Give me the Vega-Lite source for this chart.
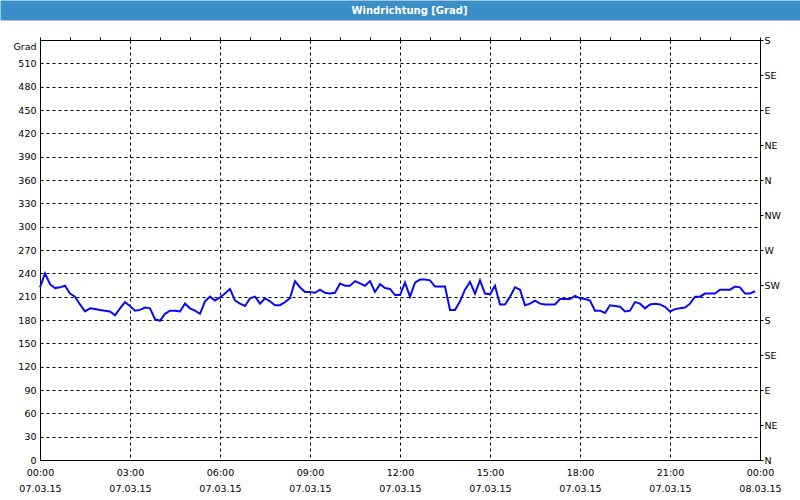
{
  "$schema": "https://vega.github.io/schema/vega-lite/v6.json",
  "autosize": {"type": "none"},
  "padding": {"left": 40, "top": 40, "right": 40, "bottom": 40},
  "background": "white",
  "width": 720,
  "height": 420,
  "view": {"stroke": "black", "strokeWidth": 1},
  "config": {
    "font": "DejaVu Sans",
    "axis": {
      "labelFont": "DejaVu Sans",
      "labelFontSize": 9.5,
      "labelColor": "black",
      "domainColor": "black",
      "tickColor": "black",
      "gridColor": "black",
      "gridDash": [3, 3],
      "gridWidth": 1,
      "titleFont": "DejaVu Sans",
      "titleColor": "black"
    }
  },
  "data": {"values": [
      {"t": "2015-03-07T00:00:00Z", "grad": 222},
      {"t": "2015-03-07T00:10:00Z", "grad": 240},
      {"t": "2015-03-07T00:20:00Z", "grad": 226},
      {"t": "2015-03-07T00:30:00Z", "grad": 221},
      {"t": "2015-03-07T00:40:00Z", "grad": 222},
      {"t": "2015-03-07T00:50:00Z", "grad": 224},
      {"t": "2015-03-07T01:00:00Z", "grad": 214},
      {"t": "2015-03-07T01:10:00Z", "grad": 210},
      {"t": "2015-03-07T01:20:00Z", "grad": 200},
      {"t": "2015-03-07T01:30:00Z", "grad": 191},
      {"t": "2015-03-07T01:40:00Z", "grad": 195},
      {"t": "2015-03-07T01:50:00Z", "grad": 194},
      {"t": "2015-03-07T02:00:00Z", "grad": 193},
      {"t": "2015-03-07T02:10:00Z", "grad": 192},
      {"t": "2015-03-07T02:20:00Z", "grad": 191},
      {"t": "2015-03-07T02:30:00Z", "grad": 186},
      {"t": "2015-03-07T02:40:00Z", "grad": 195},
      {"t": "2015-03-07T02:50:00Z", "grad": 203},
      {"t": "2015-03-07T03:00:00Z", "grad": 198},
      {"t": "2015-03-07T03:10:00Z", "grad": 192},
      {"t": "2015-03-07T03:20:00Z", "grad": 193},
      {"t": "2015-03-07T03:30:00Z", "grad": 196},
      {"t": "2015-03-07T03:40:00Z", "grad": 195},
      {"t": "2015-03-07T03:50:00Z", "grad": 181},
      {"t": "2015-03-07T04:00:00Z", "grad": 179},
      {"t": "2015-03-07T04:10:00Z", "grad": 188},
      {"t": "2015-03-07T04:20:00Z", "grad": 192},
      {"t": "2015-03-07T04:30:00Z", "grad": 192},
      {"t": "2015-03-07T04:40:00Z", "grad": 191},
      {"t": "2015-03-07T04:50:00Z", "grad": 201},
      {"t": "2015-03-07T05:00:00Z", "grad": 195},
      {"t": "2015-03-07T05:10:00Z", "grad": 192},
      {"t": "2015-03-07T05:20:00Z", "grad": 188},
      {"t": "2015-03-07T05:30:00Z", "grad": 204},
      {"t": "2015-03-07T05:40:00Z", "grad": 210},
      {"t": "2015-03-07T05:50:00Z", "grad": 205},
      {"t": "2015-03-07T06:00:00Z", "grad": 209},
      {"t": "2015-03-07T06:10:00Z", "grad": 214},
      {"t": "2015-03-07T06:20:00Z", "grad": 220},
      {"t": "2015-03-07T06:30:00Z", "grad": 205},
      {"t": "2015-03-07T06:40:00Z", "grad": 201},
      {"t": "2015-03-07T06:50:00Z", "grad": 198},
      {"t": "2015-03-07T07:00:00Z", "grad": 208},
      {"t": "2015-03-07T07:10:00Z", "grad": 210},
      {"t": "2015-03-07T07:20:00Z", "grad": 201},
      {"t": "2015-03-07T07:30:00Z", "grad": 208},
      {"t": "2015-03-07T07:40:00Z", "grad": 204},
      {"t": "2015-03-07T07:50:00Z", "grad": 199},
      {"t": "2015-03-07T08:00:00Z", "grad": 199},
      {"t": "2015-03-07T08:10:00Z", "grad": 203},
      {"t": "2015-03-07T08:20:00Z", "grad": 208},
      {"t": "2015-03-07T08:30:00Z", "grad": 230},
      {"t": "2015-03-07T08:40:00Z", "grad": 222},
      {"t": "2015-03-07T08:50:00Z", "grad": 216},
      {"t": "2015-03-07T09:00:00Z", "grad": 216},
      {"t": "2015-03-07T09:10:00Z", "grad": 215},
      {"t": "2015-03-07T09:20:00Z", "grad": 219},
      {"t": "2015-03-07T09:30:00Z", "grad": 215},
      {"t": "2015-03-07T09:40:00Z", "grad": 214},
      {"t": "2015-03-07T09:50:00Z", "grad": 215},
      {"t": "2015-03-07T10:00:00Z", "grad": 227},
      {"t": "2015-03-07T10:10:00Z", "grad": 224},
      {"t": "2015-03-07T10:20:00Z", "grad": 224},
      {"t": "2015-03-07T10:30:00Z", "grad": 230},
      {"t": "2015-03-07T10:40:00Z", "grad": 227},
      {"t": "2015-03-07T10:50:00Z", "grad": 224},
      {"t": "2015-03-07T11:00:00Z", "grad": 230},
      {"t": "2015-03-07T11:10:00Z", "grad": 216},
      {"t": "2015-03-07T11:20:00Z", "grad": 226},
      {"t": "2015-03-07T11:30:00Z", "grad": 221},
      {"t": "2015-03-07T11:40:00Z", "grad": 220},
      {"t": "2015-03-07T11:50:00Z", "grad": 212},
      {"t": "2015-03-07T12:00:00Z", "grad": 212},
      {"t": "2015-03-07T12:10:00Z", "grad": 228},
      {"t": "2015-03-07T12:20:00Z", "grad": 210},
      {"t": "2015-03-07T12:30:00Z", "grad": 228},
      {"t": "2015-03-07T12:40:00Z", "grad": 232},
      {"t": "2015-03-07T12:50:00Z", "grad": 232},
      {"t": "2015-03-07T13:00:00Z", "grad": 231},
      {"t": "2015-03-07T13:10:00Z", "grad": 223},
      {"t": "2015-03-07T13:20:00Z", "grad": 223},
      {"t": "2015-03-07T13:30:00Z", "grad": 223},
      {"t": "2015-03-07T13:40:00Z", "grad": 193},
      {"t": "2015-03-07T13:50:00Z", "grad": 193},
      {"t": "2015-03-07T14:00:00Z", "grad": 204},
      {"t": "2015-03-07T14:10:00Z", "grad": 219},
      {"t": "2015-03-07T14:20:00Z", "grad": 229},
      {"t": "2015-03-07T14:30:00Z", "grad": 214},
      {"t": "2015-03-07T14:40:00Z", "grad": 231},
      {"t": "2015-03-07T14:50:00Z", "grad": 214},
      {"t": "2015-03-07T15:00:00Z", "grad": 213},
      {"t": "2015-03-07T15:10:00Z", "grad": 224},
      {"t": "2015-03-07T15:20:00Z", "grad": 200},
      {"t": "2015-03-07T15:30:00Z", "grad": 200},
      {"t": "2015-03-07T15:40:00Z", "grad": 210},
      {"t": "2015-03-07T15:50:00Z", "grad": 222},
      {"t": "2015-03-07T16:00:00Z", "grad": 219},
      {"t": "2015-03-07T16:10:00Z", "grad": 199},
      {"t": "2015-03-07T16:20:00Z", "grad": 201},
      {"t": "2015-03-07T16:30:00Z", "grad": 205},
      {"t": "2015-03-07T16:40:00Z", "grad": 201},
      {"t": "2015-03-07T16:50:00Z", "grad": 200},
      {"t": "2015-03-07T17:00:00Z", "grad": 200},
      {"t": "2015-03-07T17:10:00Z", "grad": 200},
      {"t": "2015-03-07T17:20:00Z", "grad": 207},
      {"t": "2015-03-07T17:30:00Z", "grad": 207},
      {"t": "2015-03-07T17:40:00Z", "grad": 207},
      {"t": "2015-03-07T17:50:00Z", "grad": 211},
      {"t": "2015-03-07T18:00:00Z", "grad": 208},
      {"t": "2015-03-07T18:10:00Z", "grad": 207},
      {"t": "2015-03-07T18:20:00Z", "grad": 205},
      {"t": "2015-03-07T18:30:00Z", "grad": 192},
      {"t": "2015-03-07T18:40:00Z", "grad": 192},
      {"t": "2015-03-07T18:50:00Z", "grad": 189},
      {"t": "2015-03-07T19:00:00Z", "grad": 199},
      {"t": "2015-03-07T19:10:00Z", "grad": 198},
      {"t": "2015-03-07T19:20:00Z", "grad": 197},
      {"t": "2015-03-07T19:30:00Z", "grad": 191},
      {"t": "2015-03-07T19:40:00Z", "grad": 192},
      {"t": "2015-03-07T19:50:00Z", "grad": 203},
      {"t": "2015-03-07T20:00:00Z", "grad": 201},
      {"t": "2015-03-07T20:10:00Z", "grad": 195},
      {"t": "2015-03-07T20:20:00Z", "grad": 200},
      {"t": "2015-03-07T20:30:00Z", "grad": 201},
      {"t": "2015-03-07T20:40:00Z", "grad": 200},
      {"t": "2015-03-07T20:50:00Z", "grad": 197},
      {"t": "2015-03-07T21:00:00Z", "grad": 191},
      {"t": "2015-03-07T21:10:00Z", "grad": 194},
      {"t": "2015-03-07T21:20:00Z", "grad": 195},
      {"t": "2015-03-07T21:30:00Z", "grad": 196},
      {"t": "2015-03-07T21:40:00Z", "grad": 201},
      {"t": "2015-03-07T21:50:00Z", "grad": 210},
      {"t": "2015-03-07T22:00:00Z", "grad": 210},
      {"t": "2015-03-07T22:10:00Z", "grad": 214},
      {"t": "2015-03-07T22:20:00Z", "grad": 214},
      {"t": "2015-03-07T22:30:00Z", "grad": 214},
      {"t": "2015-03-07T22:40:00Z", "grad": 219},
      {"t": "2015-03-07T22:50:00Z", "grad": 219},
      {"t": "2015-03-07T23:00:00Z", "grad": 219},
      {"t": "2015-03-07T23:10:00Z", "grad": 223},
      {"t": "2015-03-07T23:20:00Z", "grad": 222},
      {"t": "2015-03-07T23:30:00Z", "grad": 214},
      {"t": "2015-03-07T23:40:00Z", "grad": 214},
      {"t": "2015-03-07T23:50:00Z", "grad": 217}
  ]},
  "layer": [
    {
      "mark": {"type": "line", "color": "#0a0aee", "strokeWidth": 2},
      "encoding": {
        "x": {
          "field": "t",
          "type": "temporal",
          "title": null,
          "scale": {"type": "utc", "nice": false, "domain": [1425686400000, 1425772800000]},
          "axis": {
            "values": [1425686400000, 1425697200000, 1425708000000, 1425718800000, 1425729600000, 1425740400000, 1425751200000, 1425762000000, 1425772800000],
            "labelExpr": "[utcFormat(datum.value, '%H:%M'), utcFormat(datum.value, '%d.%m.%y')]",
            "labelOverlap": false,
            "labelLineHeight": 16,
            "labelPadding": 7,
            "labelBaseline": "top",
            "labelFlush": false,
            "ticks": false,
            "grid": true
          }
        },
        "y": {
          "field": "grad",
          "type": "quantitative",
          "scale": {"domain": [0, 540], "nice": false},
          "axis": {
            "orient": "left",
            "values": [0, 30, 60, 90, 120, 150, 180, 210, 240, 270, 300, 330, 360, 390, 420, 450, 480, 510],
            "grid": true,
            "ticks": false,
            "labelPadding": 4,
            "title": "Grad",
            "titleAngle": 0,
            "titleAlign": "right",
            "titleBaseline": "middle",
            "titleX": -4,
            "titleY": 6,
            "titleFontWeight": "normal",
            "titleFontSize": 9.5
          }
        }
      }
    },
    {
      "mark": {"type": "line", "strokeOpacity": 0},
      "encoding": {
        "x": {
          "field": "t",
          "type": "temporal",
          "title": null,
          "axis": {
            "values": [1425686400000, 1425690000000, 1425693600000, 1425697200000, 1425700800000, 1425704400000, 1425708000000, 1425711600000, 1425715200000, 1425718800000, 1425722400000, 1425726000000, 1425729600000, 1425733200000, 1425736800000, 1425740400000, 1425744000000, 1425747600000, 1425751200000, 1425754800000, 1425758400000, 1425762000000, 1425765600000, 1425769200000, 1425772800000],
            "labels": false,
            "grid": false,
            "domain": false,
            "tickSize": 3
          }
        },
        "y": {
          "field": "grad",
          "type": "quantitative",
          "scale": {"domain": [0, 540], "nice": false},
          "axis": {
            "orient": "right",
            "values": [0, 45, 90, 135, 180, 225, 270, 315, 360, 405, 450, 495, 540],
            "labelExpr": "['N','NE','E','SE','S','SW','W','NW','N','NE','E','SE','S'][round(datum.value / 45)]",
            "grid": false,
            "tickSize": 3,
            "labelPadding": 1,
            "title": null
          }
        }
      }
    },
    {
      "mark": {"type": "line", "strokeOpacity": 0},
      "encoding": {
        "x": {
          "field": "t",
          "type": "temporal",
          "title": null,
          "axis": {
            "orient": "top",
            "values": [1425729600000],
            "offset": 20,
            "domain": false,
            "grid": false,
            "tickSize": 20,
            "tickWidth": 800,
            "tickColor": "#3b8fc6",
            "labelExpr": "'Windrichtung [Grad]'",
            "labelColor": "white",
            "labelFont": "DejaVu Sans",
            "labelFontSize": 10,
            "labelFontWeight": "bold",
            "labelAngle": 0,
            "labelAlign": "center",
            "labelBaseline": "middle",
            "labelPadding": -10,
            "labelOffset": 9,
            "labelOverlap": false,
            "labelFlush": false
          }
        },
        "y": {
          "field": "grad",
          "type": "quantitative",
          "scale": {"domain": [0, 540], "nice": false},
          "axis": null
        }
      }
    }
  ],
  "resolve": {"scale": {"y": "independent"}, "axis": {"x": "independent"}}
}
